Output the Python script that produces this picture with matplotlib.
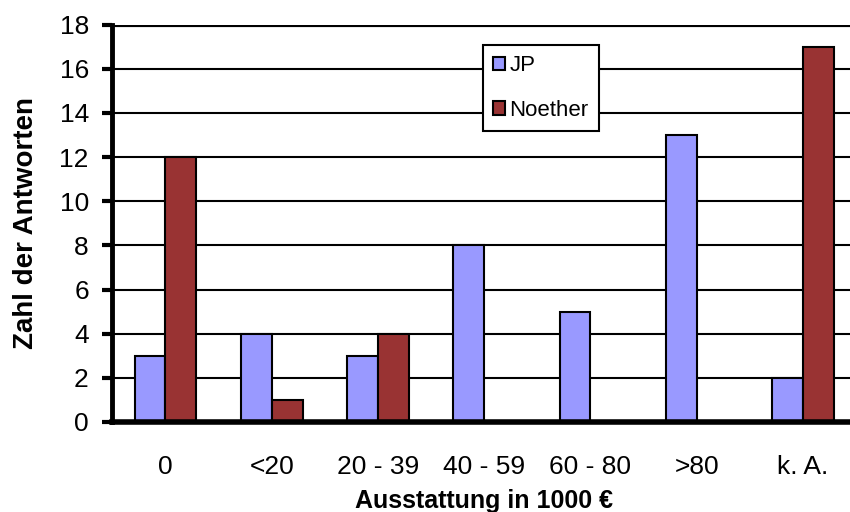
import matplotlib
matplotlib.use("Agg")
import matplotlib.pyplot as plt
import numpy as np

plt.rcParams['font.family'] = ['Liberation Sans', 'DejaVu Sans']

categories = ["0", "<20", "20 - 39", "40 - 59", "60 - 80", ">80", "k. A."]
jp = [3, 4, 3, 8, 5, 13, 2]
noether = [12, 1, 4, 0, 0, 0, 17]
y_ticks = [0, 2, 4, 6, 8, 10, 12, 14, 16, 18]

fig = plt.figure(figsize=(8.5, 5.12), dpi=100)
ax = fig.add_axes([0.1322, 0.1758, 0.875, 0.776])

x = np.arange(len(categories))
w = 0.29
ax.bar(x - w / 2, jp, width=w, color="#9999FF", edgecolor="black", linewidth=1.5, label="JP", zorder=3)
ax.bar(x + w / 2, noether, width=w, color="#993333", edgecolor="black", linewidth=1.5, label="Noether", zorder=3)

ax.set_xlim(-0.5, len(categories) - 0.5)
ax.set_ylim(0, 18)
ax.set_yticks(y_ticks)
ax.set_xticks(x)
ax.set_xticklabels(categories)

for yv in y_ticks[1:]:
    ax.axhline(yv, color="black", linewidth=3 if yv == 18 else 1.5, zorder=1)

for s in ["top", "right"]:
    ax.spines[s].set_visible(False)
ax.spines["left"].set_linewidth(3.5)
ax.spines["bottom"].set_linewidth(4)
ax.spines["left"].set_zorder(4)
ax.spines["bottom"].set_zorder(4)

ax.tick_params(axis="y", direction="out", length=7, width=3, labelsize=19, pad=10)
ax.tick_params(axis="x", length=0, labelsize=19, pad=24)

ax.set_xlabel("Ausstattung in 1000 €", fontsize=18, fontweight="bold", labelpad=7)
ax.set_ylabel("Zahl der Antworten", fontsize=20, fontweight="bold", labelpad=15)

leg = ax.legend(loc="upper left", bbox_to_anchor=(0.498, 0.948), fontsize=16,
                frameon=True, fancybox=False, framealpha=1, edgecolor="black",
                handlelength=0.55, handleheight=0.55, handletextpad=0.2,
                labelspacing=1.05, borderpad=0.45, borderaxespad=0)
leg.get_frame().set_linewidth(1.5)
leg.set_zorder(5)

fig.savefig("out.png", dpi=100)
